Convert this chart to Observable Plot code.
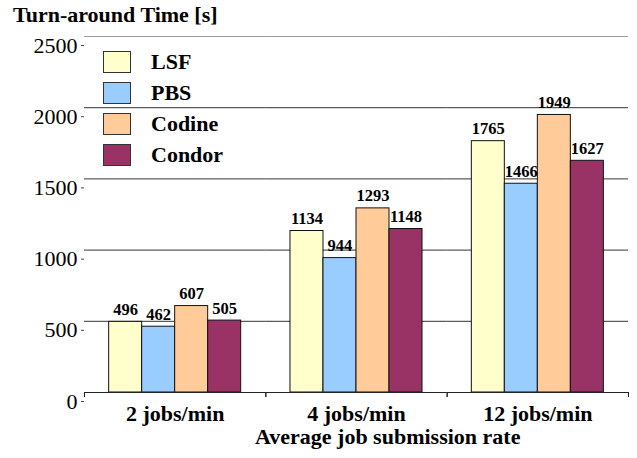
<!DOCTYPE html>
<html>
<head>
<meta charset="utf-8">
<script src="https://cdn.jsdelivr.net/npm/d3@7"></script>
<script src="https://cdn.jsdelivr.net/npm/@observablehq/plot@0.6"></script>
<style>
  html, body { margin: 0; padding: 0; background: #fff; }
  #chart { position: relative; width: 637px; height: 458px; font-family: "Liberation Serif", "Times New Roman", serif; color: #000; }
  #chart svg { position: absolute; left: 0; top: 0; }
  .title { position: absolute; left: 13px; top: 2px; font-size: 22px; font-weight: bold; white-space: nowrap; }
  .xtitle { position: absolute; left: 255px; top: 424px; font-size: 22px; font-weight: bold; white-space: nowrap; }
  .legend { position: absolute; left: 103px; top: 46px; }
  .legend .row { display: flex; align-items: center; height: 31px; }
  .legend .sw { width: 26px; height: 20px; border: 1px solid #333; margin-right: 20px; }
  .legend .lbl { font-size: 22px; font-weight: bold; line-height: 22px; }
</style>
</head>
<body>
<div id="chart"></div>
<script>
// Average turn-around time per batch system at three job submission rates
const groups = ["2 jobs/min", "4 jobs/min", "12 jobs/min"];
const series = ["LSF", "PBS", "Codine", "Condor"];
const lsf = [496, 1134, 1765];
const pbs = [462, 944, 1466];
const codine = [607, 1293, 1949];
const condor = [505, 1148, 1627];
const colors = ["#FFFFCC", "#99CCFF", "#FFCC99", "#993366"];
const yTicks = [0, 500, 1000, 1500, 2000, 2500];
const gridValues = [500, 1000, 1500, 2000];

const values = [lsf, pbs, codine, condor];
const rows = groups.flatMap((g, i) => series.map((s, j) => ({group: g, series: s, value: values[j][i]})));

const chart = Plot.plot({
  width: 637,
  height: 458,
  marginTop: 36,
  marginBottom: 66,
  marginLeft: 84,
  marginRight: 9,
  style: {fontFamily: "'Liberation Serif', 'Times New Roman', serif", color: "#000", background: "transparent"},
  fx: {domain: groups, padding: 0, round: false, label: null},
  x: {domain: series, paddingInner: 0, paddingOuter: 0.747, round: false, axis: null},
  y: {domain: [0, 2500], label: null},
  color: {domain: series, range: colors},
  marks: [
    Plot.ruleY(gridValues, {stroke: "#333"}),
    Plot.ruleY([2500], {stroke: "#9a9a9a"}),
    Plot.barY(rows, {fx: "group", x: "series", y: "value", fill: "series", stroke: "#111", strokeWidth: 1}),
    Plot.text(rows, {fx: "group", x: "series", y: "value", text: d => String(d.value), dy: -7, lineAnchor: "bottom", fontWeight: "bold", fontSize: 16.5}),
    Plot.ruleY([0], {stroke: "#222"}),
    Plot.frame({anchor: "left", insetTop: 356, insetBottom: -4, stroke: "#222"}),
    Plot.frame({anchor: "right", insetTop: 356, insetBottom: -4, stroke: "#222"}),
    Plot.axisY({anchor: "right", ticks: [], line: true, stroke: "#9a9a9a", label: null}),
    Plot.axisY({anchor: "left", ticks: yTicks, tickFormat: d => String(d), tickSize: 3, tickPadding: 4, line: true, stroke: "#444", label: null, fontSize: 22, dy: 9}),
    Plot.axisFx({anchor: "bottom", tickSize: 0, tickPadding: 13, label: null, fontSize: 22, fontWeight: "bold"})
  ]
});

const root = document.getElementById("chart");
root.appendChild(chart);

const title = document.createElement("div");
title.className = "title";
title.textContent = "Turn-around Time [s]";
root.appendChild(title);

const xtitle = document.createElement("div");
xtitle.className = "xtitle";
xtitle.textContent = "Average job submission rate";
root.appendChild(xtitle);

const legend = document.createElement("div");
legend.className = "legend";
series.forEach((s, i) => {
  const row = document.createElement("div");
  row.className = "row";
  const sw = document.createElement("div");
  sw.className = "sw";
  sw.style.background = colors[i];
  const lbl = document.createElement("div");
  lbl.className = "lbl";
  lbl.textContent = s;
  row.appendChild(sw);
  row.appendChild(lbl);
  legend.appendChild(row);
});
root.appendChild(legend);
</script>
</body>
</html>
